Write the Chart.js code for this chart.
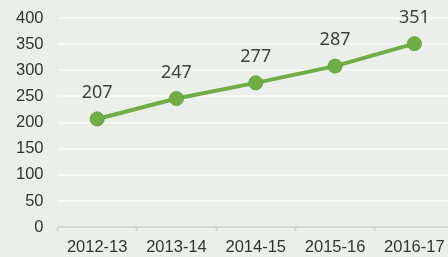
<!DOCTYPE html>
<html>
<head>
<meta charset="utf-8">
<script src="https://cdn.jsdelivr.net/npm/chart.js@4"></script>
<style>
  html, body { margin: 0; padding: 0; overflow: hidden; background: #ebefe9; }
  #wrap { width: 462px; height: 257px; }
</style>
</head>
<body>
<div id="wrap"><canvas id="trend-chart"></canvas></div>
<script>
// data
const years = ['2012-13', '2013-14', '2014-15', '2015-16', '2016-17'];
const values = [207, 246, 276, 308, 351];
// the printed labels (the 4th one does not match where its point sits)
const valueLabels = ['207', '247', '277', '287', '351'];
const yTicks = [0, 50, 100, 150, 200, 250, 300, 350, 400];

const green = '#70ad47';
const axisFont = { family: '"Liberation Sans", Arial, sans-serif', size: 16.5 };

// draw the numbers above the points
const pointLabels = {
  id: 'pointLabels',
  afterDatasetsDraw(chart) {
    const ctx = chart.ctx;
    const meta = chart.getDatasetMeta(0);
    ctx.save();
    ctx.font = '18px "Noto Sans", sans-serif';
    ctx.fillStyle = '#404040';
    ctx.textAlign = 'center';
    ctx.textBaseline = 'middle';
    meta.data.forEach((pt, i) => {
      ctx.fillText(valueLabels[i], pt.x, pt.y - 26);
    });
    ctx.restore();
  }
};

const ctx = document.getElementById('trend-chart').getContext('2d');
const myChart = new Chart(ctx, {
  type: 'line',
  data: {
    labels: years,
    datasets: [{
      data: values,
      borderColor: green,
      borderWidth: 4,
      backgroundColor: green,
      pointRadius: 7,
      pointBorderColor: '#62a03a',
      pointBorderWidth: 1,
      pointBackgroundColor: green,
      tension: 0
    }]
  },
  options: {
    responsive: true,
    maintainAspectRatio: false,
    animation: false,
    layout: { padding: { left: 2, top: 0, right: 0, bottom: -6 } },
    plugins: {
      legend: { display: false },
      tooltip: { enabled: false }
    },
    scales: {
      x: {
        offset: true,
        grid: {
          offset: true,
          drawOnChartArea: false,
          drawTicks: true,
          tickLength: 4,
          tickWidth: 2,
          tickColor: '#d4d6d2'
        },
        border: { display: true, color: '#d4d6d2', width: 2 },
        ticks: {
          color: '#333333',
          font: axisFont,
          padding: 6,
          maxRotation: 0
        }
      },
      y: {
        min: 0,
        max: 400,
        afterBuildTicks(axis) {
          axis.ticks = yTicks.map(v => ({ value: v }));
        },
        afterFit(axis) {
          // the label gap should not push the plot down
          axis.paddingTop = 18;
          axis.paddingBottom = 0;
        },
        grid: {
          color: '#f7f8f6',
          lineWidth: 2,
          drawTicks: false
        },
        border: { display: false },
        ticks: {
          color: '#333333',
          font: axisFont,
          padding: 14
        }
      }
    }
  },
  plugins: [pointLabels]
});
</script>
</body>
</html>
